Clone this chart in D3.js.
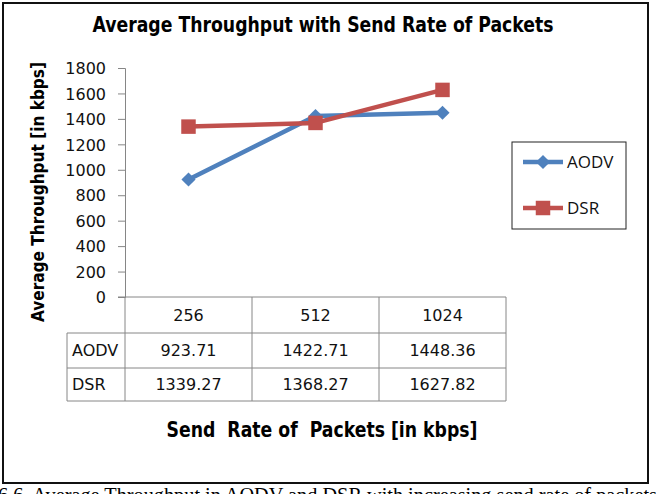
<!DOCTYPE html>
<html>
<head>
<meta charset="utf-8">
<script src="https://cdn.jsdelivr.net/npm/d3@7"></script>
<style>
  html, body { margin: 0; padding: 0; background: #fff; }
  svg { display: block; }
</style>
</head>
<body>
<svg id="chart" width="656" height="494"></svg>
<script>
// chart data
const categories = ["256", "512", "1024"];
const seriesNames = ["AODV", "DSR"];
const aodvValues = [923.71, 1422.71, 1448.36];
const dsrValues = [1339.27, 1368.27, 1627.82];
const aodvLabels = ["923.71", "1422.71", "1448.36"];
const dsrLabels = ["1339.27", "1368.27", "1627.82"];
const yTickValues = [0, 200, 400, 600, 800, 1000, 1200, 1400, 1600, 1800];

const blue = "#4f81bd";
const red = "#c0504d";
const axisGrey = "#868686";
const sans = "'DejaVu Sans', Verdana, sans-serif";
const cond = "'DejaVu Sans Condensed', 'DejaVu Sans', sans-serif";

const svg = d3.select("#chart");

// outer frame
svg.append("rect")
    .attr("x", 3).attr("y", 3)
    .attr("width", 645).attr("height", 480)
    .attr("fill", "#fff")
    .attr("stroke", "#111")
    .attr("stroke-width", 2);

// caption under the frame (cut off by the page edge, as in the source)
svg.append("text")
    .attr("x", -2).attr("y", 502)
    .attr("font-family", "'Liberation Serif', 'Times New Roman', serif")
    .attr("font-size", 20.3)
    .attr("fill", "#000")
    .text("6.6. Average Throughput in AODV and DSR with increasing send rate of packets");

// scales
const x = d3.scaleBand().domain(categories).range([125, 506]).padding(0);
const y = d3.scaleLinear().domain([0, 1800]).range([297, 68]);

// title
svg.append("text")
    .attr("x", 323).attr("y", 32)
    .attr("text-anchor", "middle")
    .attr("font-family", cond)
    .attr("font-weight", "bold")
    .attr("font-size", 21)
    .attr("textLength", 461)
    .attr("lengthAdjust", "spacingAndGlyphs")
    .text("Average Throughput with Send Rate of Packets");

// y axis
const yAxis = d3.axisLeft(y)
    .tickValues(yTickValues)
    .tickFormat(d3.format("d"))
    .tickSize(7)
    .tickPadding(12);
const gy = svg.append("g")
    .attr("transform", "translate(125,0)")
    .call(yAxis);
gy.select(".domain").attr("stroke", axisGrey).attr("stroke-width", 1);
gy.selectAll(".tick line").attr("stroke", axisGrey);
gy.selectAll(".tick text")
    .attr("font-family", sans)
    .attr("font-size", 16)
    .attr("fill", "#111")
    .attr("dy", "0.36em");

// y axis title
svg.append("text")
    .attr("transform", "translate(44,192) rotate(-90)")
    .attr("text-anchor", "middle")
    .attr("font-family", cond)
    .attr("font-weight", "bold")
    .attr("font-size", 18)
    .attr("textLength", 260)
    .attr("lengthAdjust", "spacingAndGlyphs")
    .text("Average Throughput [in kbps]");

// data table under the plot
const rowTop = [297, 333, 368];
const rowBottom = [333, 368, 401];
const tableLeft = 67;
const tableRight = x.range()[1];
const grid = svg.append("g").attr("stroke", axisGrey).attr("stroke-width", 1).attr("fill", "none");

// zero line extends past the axis into the tick area
grid.append("line").attr("x1", 118).attr("x2", tableRight).attr("y1", y(0)).attr("y2", y(0));
grid.append("line").attr("x1", tableLeft).attr("x2", tableRight).attr("y1", rowTop[1]).attr("y2", rowTop[1]);
grid.append("line").attr("x1", tableLeft).attr("x2", tableRight).attr("y1", rowTop[2]).attr("y2", rowTop[2]);
grid.append("line").attr("x1", tableLeft).attr("x2", tableRight).attr("y1", rowBottom[2]).attr("y2", rowBottom[2]);
grid.append("line").attr("x1", tableLeft).attr("x2", tableLeft).attr("y1", rowTop[1]).attr("y2", rowBottom[2]);
[x.range()[0], ...categories.map(c => x(c) + x.bandwidth())].forEach(xx => {
    grid.append("line").attr("x1", xx).attr("x2", xx).attr("y1", y(0)).attr("y2", rowBottom[2]);
});

const cellText = svg.append("g")
    .attr("font-family", sans)
    .attr("font-size", 16)
    .attr("fill", "#111");

cellText.selectAll(".hdr").data(categories).join("text")
    .attr("x", d => x(d) + x.bandwidth() / 2)
    .attr("y", (rowTop[0] + rowBottom[0]) / 2)
    .attr("dy", "0.36em")
    .attr("text-anchor", "middle")
    .text(d => d);

[aodvLabels, dsrLabels].forEach((labels, r) => {
    const cy = (rowTop[r + 1] + rowBottom[r + 1]) / 2;
    cellText.append("text")
        .attr("x", tableLeft + 5).attr("y", cy).attr("dy", "0.36em")
        .text(seriesNames[r]);
    cellText.selectAll(".v" + r).data(labels).join("text")
        .attr("x", (d, i) => x(categories[i]) + x.bandwidth() / 2)
        .attr("y", cy).attr("dy", "0.36em")
        .attr("text-anchor", "middle")
        .text(d => d);
});

// x axis title
svg.append("text")
    .attr("x", 322).attr("y", 437)
    .attr("text-anchor", "middle")
    .attr("font-family", cond)
    .attr("font-weight", "bold")
    .attr("font-size", 21)
    .attr("textLength", 311)
    .attr("lengthAdjust", "spacingAndGlyphs")
    .style("white-space", "pre")
    .text("Send  Rate of  Packets [in kbps]");

// lines and markers
const cx = d => x(d) + x.bandwidth() / 2;
const line = d3.line().x(d => cx(d.cat)).y(d => y(d.v));
const aodvData = categories.map((c, i) => ({cat: c, v: aodvValues[i]}));
const dsrData = categories.map((c, i) => ({cat: c, v: dsrValues[i]}));

svg.append("path").datum(aodvData)
    .attr("d", line).attr("fill", "none")
    .attr("stroke", blue).attr("stroke-width", 4.5).attr("stroke-linejoin", "round");

svg.append("path").datum(dsrData)
    .attr("d", line).attr("fill", "none")
    .attr("stroke", red).attr("stroke-width", 4.5).attr("stroke-linejoin", "round");

const diamond = d3.symbol().type(d3.symbolSquare).size(100);
svg.selectAll(".mk-aodv").data(aodvData).join("path")
    .attr("d", diamond)
    .attr("transform", d => `translate(${cx(d.cat)},${y(d.v)}) rotate(45)`)
    .attr("fill", blue);

const square = d3.symbol().type(d3.symbolSquare).size(210);
svg.selectAll(".mk-dsr").data(dsrData).join("path")
    .attr("d", square)
    .attr("transform", d => `translate(${cx(d.cat)},${y(d.v)})`)
    .attr("fill", red);

// legend
const legend = svg.append("g");
legend.append("rect")
    .attr("x", 512).attr("y", 142)
    .attr("width", 114).attr("height", 87)
    .attr("fill", "#fff").attr("stroke", "#222").attr("stroke-width", 1);

const legendRows = [
    {name: seriesNames[0], color: blue, sym: diamond, rot: 45, yy: 162},
    {name: seriesNames[1], color: red, sym: square, rot: 0, yy: 208}
];
legendRows.forEach(r => {
    legend.append("line")
        .attr("x1", 523).attr("x2", 563).attr("y1", r.yy).attr("y2", r.yy)
        .attr("stroke", r.color).attr("stroke-width", 4.5);
    legend.append("path")
        .attr("d", r.sym)
        .attr("transform", `translate(543,${r.yy}) rotate(${r.rot})`)
        .attr("fill", r.color);
    legend.append("text")
        .attr("x", 567).attr("y", r.yy).attr("dy", "0.36em")
        .attr("font-family", "'Open Sans', 'DejaVu Sans', sans-serif")
        .attr("font-size", 17)
        .attr("fill", "#111")
        .text(r.name);
});
</script>
</body>
</html>
